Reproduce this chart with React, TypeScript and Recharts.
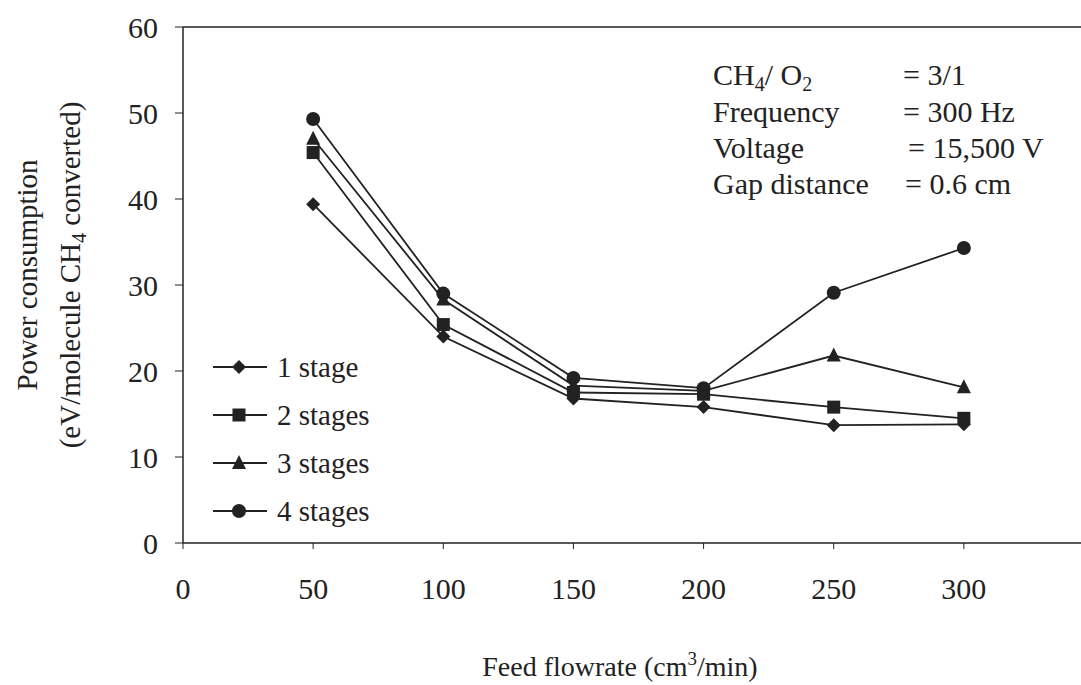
import { LineChart, Line, XAxis, YAxis, ReferenceLine } from 'recharts';

// feed flowrate (cm3/min)
const flowrates = [50, 100, 150, 200, 250, 300];

// power consumption (eV/molecule CH4 converted)
const stage1 = [39.4, 24.0, 16.8, 15.8, 13.7, 13.8];
const stage2 = [45.4, 25.4, 17.5, 17.3, 15.8, 14.5];
const stage3 = [47.0, 28.3, 18.3, 17.7, 21.8, 18.1];
const stage4 = [49.3, 29.0, 19.2, 18.0, 29.1, 34.3];

const xTicks = [0, 50, 100, 150, 200, 250, 300];
const yTicks = [0, 10, 20, 30, 40, 50, 60];

const data = flowrates.map((f, i) => ({
  flow: f,
  s1: stage1[i],
  s2: stage2[i],
  s3: stage3[i],
  s4: stage4[i],
}));

const INK = '#222';
const FONT = '"Liberation Serif", "Times New Roman", serif';

type Shape = 'diamond' | 'square' | 'triangle' | 'circle';

function marker(shape: Shape, cx: number, cy: number, key?: string) {
  if (shape === 'diamond')
    return <path key={key} d={`M${cx},${cy - 7}L${cx + 7},${cy}L${cx},${cy + 7}L${cx - 7},${cy}Z`} fill={INK} />;
  if (shape === 'square')
    return <rect key={key} x={cx - 6.5} y={cy - 6.5} width={13} height={13} fill={INK} />;
  if (shape === 'triangle')
    return <path key={key} d={`M${cx},${cy - 8}L${cx + 7},${cy + 6}L${cx - 7},${cy + 6}Z`} fill={INK} />;
  return <circle key={key} cx={cx} cy={cy} r={7} fill={INK} />;
}

const series: { key: string; name: string; shape: Shape }[] = [
  { key: 's1', name: '1 stage', shape: 'diamond' },
  { key: 's2', name: '2 stages', shape: 'square' },
  { key: 's3', name: '3 stages', shape: 'triangle' },
  { key: 's4', name: '4 stages', shape: 'circle' },
];

export default function App() {
  const tickStyle = { fontSize: 30, fontFamily: FONT, fill: INK };
  return (
    <div style={{ position: 'fixed', left: 0, top: 0, width: 1081, height: 685, overflow: 'hidden', background: '#fff' }}>
      <LineChart width={1081} height={685} data={data} margin={{ top: 27, right: 0, bottom: 0, left: 0 }}>
        <XAxis
          dataKey="flow"
          type="number"
          domain={[0, 345]}
          ticks={xTicks}
          allowDataOverflow
          height={142}
          tick={tickStyle}
          tickSize={6}
          tickMargin={29}
          stroke={INK}
          axisLine={{ stroke: INK, strokeWidth: 1.5 }}
        />
        <YAxis
          type="number"
          domain={[0, 60]}
          ticks={yTicks}
          width={183}
          tick={tickStyle}
          tickSize={8}
          tickMargin={17}
          stroke={INK}
          axisLine={{ stroke: INK, strokeWidth: 1.5 }}
        />
        <ReferenceLine y={60} stroke={INK} strokeWidth={1.5} />
        {series.map((s) => (
          <Line
            key={s.key}
            dataKey={s.key}
            name={s.name}
            stroke={INK}
            strokeWidth={1.8}
            isAnimationActive={false}
            dot={(p: any) => marker(s.shape, p.cx, p.cy, `${s.key}-${p.index}`)}
            activeDot={false}
          />
        ))}
      </LineChart>
      <svg width={1081} height={685} style={{ position: 'absolute', left: 0, top: 0, pointerEvents: 'none' }}
        fontFamily={FONT} fill={INK} fontSize={29}>
        {/* legend */}
        {series.map((s, i) => {
          const y = 367 + i * 48;
          return (
            <g key={s.key}>
              <line x1={213} x2={267} y1={y} y2={y} stroke={INK} strokeWidth={1.8} />
              {marker(s.shape, 239, y)}
              <text x={277} y={y + 10}>{s.name}</text>
            </g>
          );
        })}
        <text transform="translate(37,275) rotate(-90)" textAnchor="middle">Power consumption</text>
        <text transform="translate(80,275) rotate(-90)" textAnchor="middle">
          (eV/molecule CH<tspan fontSize={20} dy={6}>4</tspan><tspan dy={-6}> converted)</tspan>
        </text>
        <text x={620} y={676} textAnchor="middle" fontSize={28}>
          Feed flowrate (cm<tspan fontSize={19} dy={-11}>3</tspan><tspan dy={11}>/min)</tspan>
        </text>
        <g fontSize={30}>
          <text x={713} y={85}>CH<tspan fontSize={20} dy={6}>4</tspan><tspan dy={-6}>/ O</tspan><tspan fontSize={20} dy={6}>2</tspan></text>
          <text x={903} y={85}>= 3/1</text>
          <text x={713} y={122}>Frequency</text>
          <text x={903} y={122}>= 300 Hz</text>
          <text x={713} y={158}>Voltage</text>
          <text x={908} y={158}>= 15,500 V</text>
          <text x={713} y={194}>Gap distance</text>
          <text x={905} y={194}>= 0.6 cm</text>
        </g>
      </svg>
    </div>
  );
}
